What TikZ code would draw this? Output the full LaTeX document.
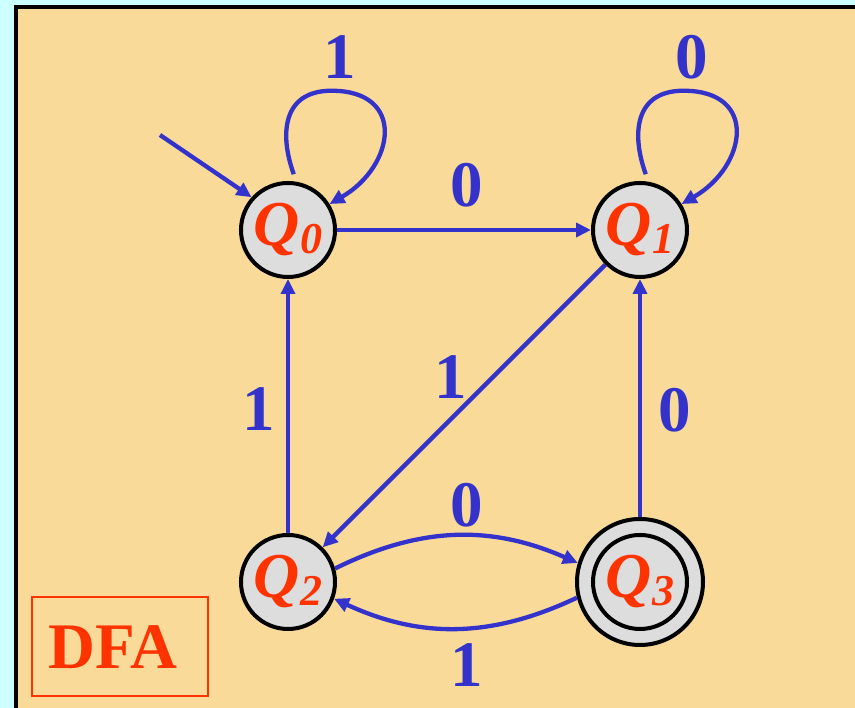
\documentclass[tikz,border=0pt]{standalone}
\usepackage{fontspec}
\setmainfont{Liberation Serif}
\usetikzlibrary{arrows.meta}

\definecolor{pagecyan}{HTML}{CCFFFF}
\definecolor{panel}{HTML}{F9DA99}
\definecolor{edgeblue}{HTML}{3333CC}
\definecolor{statered}{HTML}{FF3300}
\definecolor{stategray}{HTML}{DDDDDD}

\newcommand{\statelabel}[1]{{\fontsize{64}{64}\selectfont\bfseries\itshape Q\raisebox{-8pt}{\fontsize{44}{44}\selectfont #1}}}

\tikzset{
  state/.style={circle, draw=black, line width=4pt, fill=stategray,
    minimum size=94pt, inner sep=0pt, text=statered},
  trans/.style={draw=edgeblue, line width=4.3pt,
    -{Triangle[length=15pt,width=14pt]}},
  thintrans/.style={trans, line width=3.4pt},
  sym/.style={text=edgeblue, font=\fontsize{65}{65}\selectfont\bfseries, inner sep=0pt},
  selfloop/.style={trans, shorten <=8pt}
}

\begin{document}
\begin{tikzpicture}[x=1pt, y=1pt]
  % page and panel
  \fill[pagecyan] (0,0) rectangle (855,708);
  \useasboundingbox (0,0) rectangle (855,708);
  \filldraw[fill=panel, draw=black, line width=3.5pt] (16,-10) -- (16,701) -- (870,701);
  \fill[panel] (17.8,-5) rectangle (860,699.2);

  % states
  \node[state] (q0) at (288,478) {\statelabel{0}};
  \node[state] (q1) at (640,478) {\statelabel{1}};
  \node[state] (q2) at (288,126) {\statelabel{2}};
  \node[state, minimum size=126pt] (q3) at (640,126) {\statelabel{3}};
  \draw[black, line width=4pt] (q3.center) circle (47pt);

  % start arrow
  \coordinate (init) at (160,573);
  \draw[trans] (init) -- (q0.138);

  % self loops
  \draw[selfloop] (q0.80) to[out=110, in=180, looseness=1.3] ++(35,91)
                            to[out=0, in=30, looseness=1.7] (q0.32);
  \draw[selfloop] (q1.80) to[out=110, in=180, looseness=1.3] ++(35,91)
                            to[out=0, in=30, looseness=1.7] (q1.32);

  % transitions between states
  \draw[trans] (q0) -- (q1);
  \draw[trans] (q1) -- (q2);
  \draw[thintrans] (q2) -- (q0);
  \draw[trans] (q3) -- (q1);
  \draw[trans] (q2.16) to[bend left=25] (q3.163);
  \draw[trans] (q3.194) to[bend left=25] (q2.340);

  % input symbols
  \node[sym] (l00) at (340,651) {1};
  \node[sym] (l11) at (692,651) {0};
  \node[sym] (l01) at (467,523) {0};
  \node[sym] (l12) at (451,331) {1};
  \node[sym] (l20) at (259,299) {1};
  \node[sym] (l31) at (675,298) {0};
  \node[sym] (l23) at (467,203) {0};
  \node[sym] (l32) at (467,43) {1};

  % caption box
  \node[draw=statered, line width=2pt, minimum width=176pt, minimum height=99pt,
        inner sep=0pt, text=statered, font=\fontsize{65}{65}\selectfont\bfseries]
        (dfa) at (120,61) {\hspace*{-14pt}DFA};
\end{tikzpicture}
\end{document}
